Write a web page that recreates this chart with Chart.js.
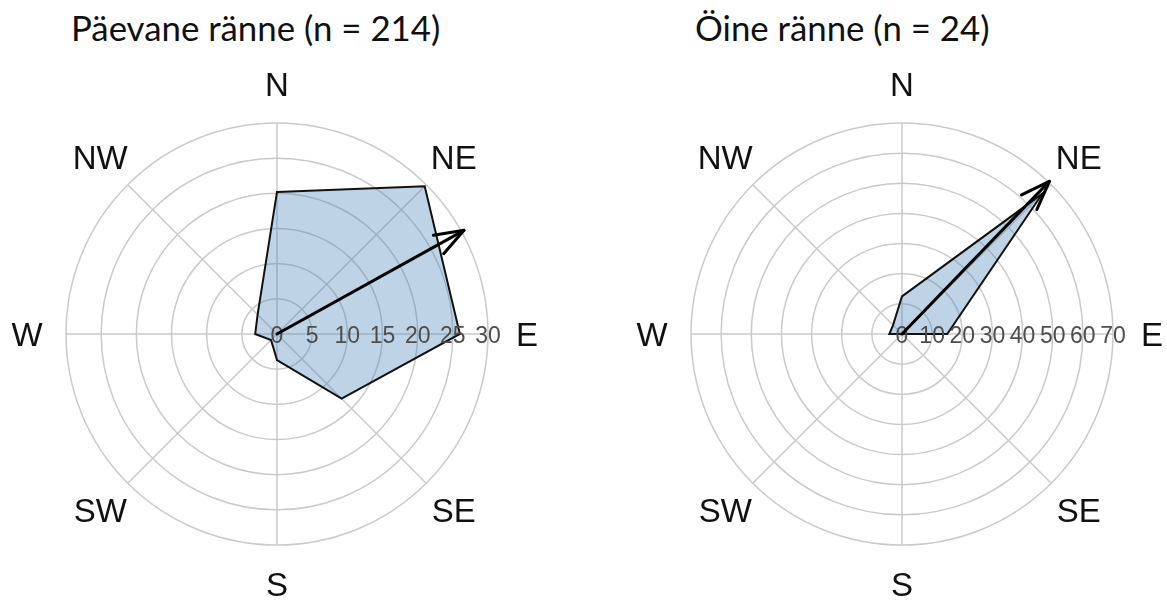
<!DOCTYPE html>
<html>
<head>
<meta charset="utf-8">
<script src="https://cdn.jsdelivr.net/npm/chart.js@4.4.1/dist/chart.umd.min.js"></script>
<style>
  html, body { margin: 0; padding: 0; background: #fff; }
  body { width: 1167px; height: 604px; position: relative; overflow: hidden; }
  .title {
    position: absolute; top: 11px;
    font-family: Lato, "Open Sans", sans-serif; font-size: 34.8px; line-height: 1;
    color: #111; white-space: nowrap;
  }
  canvas { position: absolute; top: 0; }
</style>
</head>
<body>
<div class="title" style="left:71px">Päevane ränne (n = 214)</div>
<div class="title" style="left:695px">Öine ränne (n = 24)</div>
<canvas id="dayChart" width="583" height="604" style="left:0"></canvas>
<canvas id="nightChart" width="583" height="604" style="left:584px"></canvas>
<script>
// compass sectors, clockwise from north
const directions = ['N', 'NE', 'E', 'SE', 'S', 'SW', 'W', 'NW'];

// share of tracks per sector (%)
const dayShare = [20.2, 29.7, 26.0, 13.0, 3.7, 1.2, 3.1, 3.9];
const nightShare = [12.5, 66, 15, 0, 0, 0, 4.2, 4.2];

// radial tick labels
const dayTicks = [0, 5, 10, 15, 20, 25, 30];
const nightTicks = [0, 10, 20, 30, 40, 50, 60, 70];

// mean direction (degrees clockwise from N) and arrow reach in axis units
const meanBearing = [61, 44];
const arrowReach = [30.4, 70.4];

const GRID = '#cacaca';
const AXIS_FONT = '"Liberation Sans", Arial, sans-serif';

// tick labels along the east spoke, mean-direction arrow and compass labels
const roseDecor = {
  id: 'roseDecor',
  afterDatasetsDraw(chart, args, opts) {
    const s = chart.scales.r;
    const ctx = chart.ctx;
    ctx.save();

    ctx.font = '23px ' + AXIS_FONT;
    ctx.fillStyle = '#4d4d4d';
    ctx.textAlign = 'center';
    ctx.textBaseline = 'middle';
    opts.ticks.forEach(v => {
      ctx.fillText(String(v), s.xCenter + s.getDistanceFromCenterForValue(v), s.yCenter + 3);
    });

    const a = (opts.bearing - 90) * Math.PI / 180;
    const d = s.getDistanceFromCenterForValue(opts.reach);
    const tx = s.xCenter + Math.cos(a) * d;
    const ty = s.yCenter + Math.sin(a) * d;
    const head = 31, spread = 20 * Math.PI / 180;
    ctx.strokeStyle = '#000';
    ctx.lineWidth = 3;
    ctx.lineCap = 'round';
    ctx.lineJoin = 'round';
    ctx.beginPath();
    ctx.moveTo(s.xCenter, s.yCenter);
    ctx.lineTo(tx, ty);
    ctx.stroke();
    ctx.beginPath();
    ctx.moveTo(tx - head * Math.cos(a - spread), ty - head * Math.sin(a - spread));
    ctx.lineTo(tx, ty);
    ctx.lineTo(tx - head * Math.cos(a + spread), ty - head * Math.sin(a + spread));
    ctx.stroke();

    ctx.font = '33px ' + AXIS_FONT;
    ctx.fillStyle = '#111';
    chart.data.labels.forEach((lab, i) => {
      const p = s.getPointPosition(i, s.drawingArea + 39);
      ctx.fillText(lab, p.x, p.y + 2.5);
    });
    ctx.restore();
  }
};

function makeRose(id, values, ticks, bearing, reach, pad) {
  return new Chart(document.getElementById(id), {
    type: 'radar',
    data: {
      labels: directions,
      datasets: [{
        data: values,
        fill: true,
        backgroundColor: 'rgba(70, 130, 180, 0.35)',
        borderColor: '#111',
        borderWidth: 2,
        pointRadius: 0,
        pointHoverRadius: 0,
        tension: 0
      }]
    },
    options: {
      responsive: false,
      animation: false,
      layout: { padding: pad },
      plugins: {
        legend: { display: false },
        tooltip: { enabled: false },
        roseDecor: { ticks: ticks, bearing: bearing, reach: reach }
      },
      scales: {
        r: {
          min: ticks[0],
          max: ticks[ticks.length - 1],
          ticks: { display: false, stepSize: ticks[1] - ticks[0] },
          pointLabels: { display: false },
          grid: { circular: true, color: GRID, lineWidth: 1.5 },
          angleLines: { color: GRID, lineWidth: 1.5 }
        }
      }
    },
    plugins: [roseDecor]
  });
}

makeRose('dayChart', dayShare, dayTicks, meanBearing[0], arrowReach[0],
  { left: 66, top: 123, right: 95, bottom: 59 });
makeRose('nightChart', nightShare, nightTicks, meanBearing[1], arrowReach[1],
  { left: 107, top: 123, right: 54, bottom: 59 });
</script>
</body>
</html>
